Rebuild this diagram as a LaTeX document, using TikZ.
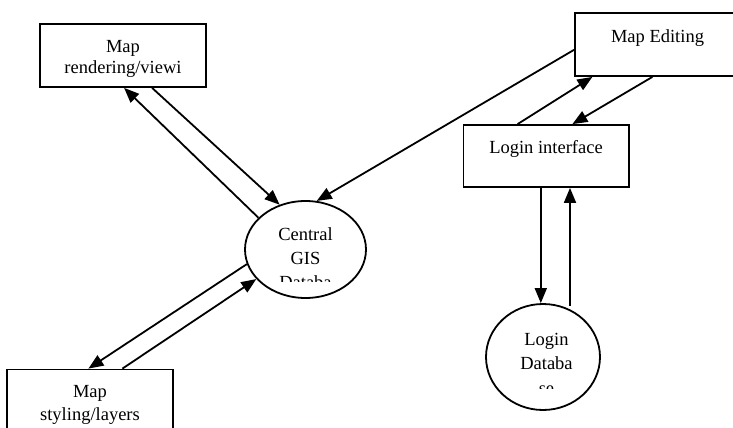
\documentclass[tikz,border=0pt]{standalone}
\usepackage{fontspec}
\setmainfont{Liberation Serif}
\usetikzlibrary{arrows.meta,shapes.geometric,calc}
\begin{document}
\begin{tikzpicture}[x=1pt,y=-1pt,
  box/.style={draw,line width=1.8pt,rectangle,inner sep=0pt},
  oval/.style={draw,line width=1.8pt,ellipse,inner sep=0pt},
  txt/.style={inner sep=0pt,align=center,anchor=north,font=\fontsize{18.5}{21}\selectfont},
  arr/.style={line width=1.8pt,-{Triangle[length=15pt,width=12pt]}}]
\fill[white] (0,0) rectangle (733,428);
\useasboundingbox (0,0) rectangle (733,428);

% shapes
\node[box,minimum width=166pt,minimum height=63pt] (rend) at (123,55.5) {};
\node[box,minimum width=166pt,minimum height=63pt] (edit) at (658,44.5) {};
\node[box,minimum width=165.5pt,minimum height=62pt] (login) at (546.25,156) {};
\node[box,minimum width=166pt,minimum height=63pt] (styl) at (90,401) {};
\node[oval,minimum width=121pt,minimum height=97pt] (cgis) at (305.5,249.5) {};
\node[oval,minimum width=114pt,minimum height=106pt] (logdb) at (543,357) {};

% texts
\node[txt] (rendT) at (123,40.4) {Map\\rendering/viewi};
\node[txt] (editT) at (657.5,29.1) {Map Editing};
\node[txt] (loginT) at (546,140.4) {Login interface};
\node[txt,font=\fontsize{18.5}{22.7}\selectfont] (stylT) at (90,385) {Map\\styling/layers};
\begin{scope}
  \clip (240,200) rectangle (370,281);
  \node[txt,font=\fontsize{18.5}{24}\selectfont] (cgisT) at (305.5,227.4) {Central\\GIS\\Databa};
\end{scope}
\begin{scope}
  \clip (480,300) rectangle (605,388.5);
  \node[txt,font=\fontsize{18.5}{24.3}\selectfont] (logdbT) at (546.5,333.1) {Login\\Databa\\se};
\end{scope}

% connectors
\draw[arr] (cgis.146) -- ($(rend.south west)+(85,0)$);
\draw[arr] ($(rend.south west)+(113,0)$) -- (cgis.120.5);
\draw[arr] ($(edit.north west)+(0,37.7)$) -- (cgis.77);
\draw[arr] ($(login.north west)+(55,0)$) -- ($(edit.south west)+(18.3,0)$);
\draw[arr] ($(edit.south west)+(78.3,0)$) -- ($(login.north west)+(109.8,0)$);
\coordinate (v1) at ($(login.south west)+(78.2,0)$);
\draw[arr] (v1) -- (v1 |- logdb.north);
\coordinate (v2) at ($(logdb.north)+(27,3)$);
\draw[arr] (v2) -- (v2 |- login.south);
\draw[arr] (cgis.194.4) -- ($(styl.north west)+(82.3,0)$);
\draw[arr] ($(styl.north west)+(116.3,0)$) -- (cgis.211.1);
\end{tikzpicture}
\end{document}
